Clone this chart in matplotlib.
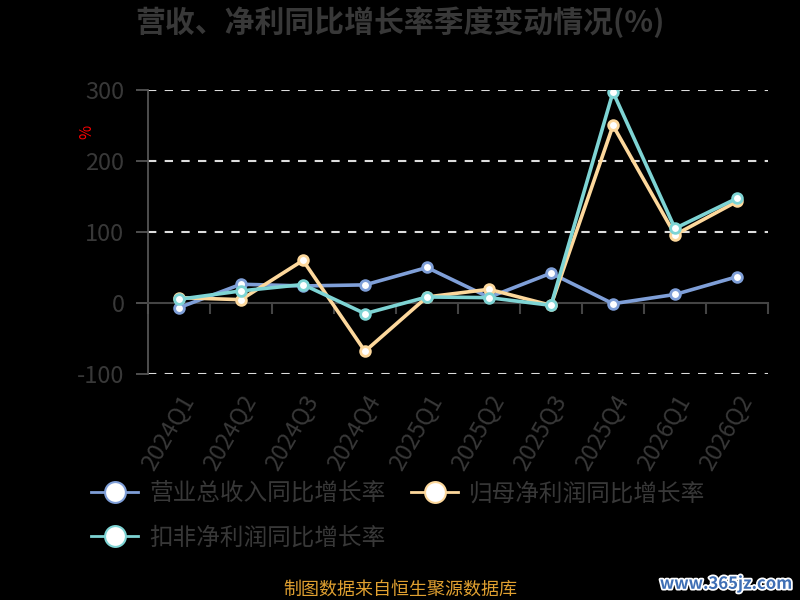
import matplotlib
matplotlib.use("Agg")
import matplotlib.pyplot as plt
from matplotlib.lines import Line2D
import matplotlib.patheffects as pe

plt.rcParams['font.family'] = ['Noto Sans CJK SC', 'DejaVu Sans']

quarters = ["2024Q1", "2024Q2", "2024Q3", "2024Q4", "2025Q1",
            "2025Q2", "2025Q3", "2025Q4", "2026Q1", "2026Q2"]
revenue_yoy = [-6.6, 26.4, 24.0, 25.5, 50.0, 8.0, 42.0, -1.0, 12.0, 37.0]
net_profit_yoy = [7.5, 4.7, 60.0, -68.0, 8.5, 19.3, -3.3, 250.0, 96.0, 143.0]
deducted_profit_yoy = [5.2, 17.0, 26.0, -15.0, 8.5, 7.5, -3.3, 297.0, 105.0, 147.5]
series_names = ["营业总收入同比增长率", "归母净利润同比增长率", "扣非净利润同比增长率"]
colors = ["#7f9fd8", "#fdd89c", "#7ed4d4"]
yticks = [-100, 0, 100, 200, 300]

gray = "#383838"

fig = plt.figure(figsize=(8, 6), dpi=100, facecolor="black")
ax = fig.add_axes([0.185, 0.3767, 0.775, 0.4733], facecolor="black")

x = list(range(len(quarters)))
all_series = [revenue_yoy, net_profit_yoy, deducted_profit_yoy]
for vals, col in zip(all_series, colors):
    ax.plot(x, vals, color=col, lw=2.6, marker="o", markersize=7,
            markerfacecolor="white", markeredgecolor=col, markeredgewidth=2,
            zorder=3)

ax.set_xlim(-0.5, len(quarters) - 0.5)
ax.set_ylim(-100, 300)

# grid
for v in yticks:
    if v != 0:
        ax.axhline(v, color="#dddddd", lw=1.5, ls=(0, (4, 4)), zorder=1)

# spines
for s in ["top", "right"]:
    ax.spines[s].set_visible(False)
ax.spines["left"].set_color("#555555")
ax.spines["left"].set_linewidth(1.3)
ax.spines["bottom"].set_position(("data", 0))
ax.spines["bottom"].set_color("#444444")
ax.spines["bottom"].set_linewidth(1.5)

ax.set_yticks(yticks)
ax.set_yticklabels([str(v) for v in yticks])
ax.tick_params(axis="y", colors="#555555", labelcolor=gray, labelsize=17,
               length=9, width=1.3, pad=8)
ax.set_xticks([i - 0.5 for i in range(len(quarters) + 1)])
ax.set_xticklabels([])
ax.tick_params(axis="x", colors="#444444", length=8, width=1.5, direction="out")

sec = ax.secondary_xaxis(0)
sec.set_xticks(x)
sec.set_xticklabels(quarters, rotation=60, ha="right", rotation_mode="anchor")
sec.tick_params(length=0, labelcolor=gray, labelsize=17, pad=12)
sec.spines["bottom"].set_visible(False)

fig.text(0.108, 0.78, "%", color="red", fontsize=11, rotation=90,
         ha="center", va="center")

fig.text(0.5, 0.963, "营收、净利同比增长率季度变动情况(%)", color=gray,
         fontsize=21.5, fontweight="bold", ha="center", va="center")

handles = [Line2D([0], [0], color=c, lw=2, marker="o", markersize=15,
                  markerfacecolor="white", markeredgecolor=c, markeredgewidth=1.5)
           for c in colors]
# order in reference: row1 = items 0,1; row2 = item 2
leg = fig.legend([handles[0], handles[2], handles[1]],
                 [series_names[0], series_names[2], series_names[1]],
                 loc="upper left", ncol=2, bbox_to_anchor=(0.114, 0.196),
                 frameon=False, fontsize=17, labelcolor=gray,
                 handlelength=2.0, handletextpad=0.45, columnspacing=1.1,
                 labelspacing=0.88, borderaxespad=0, borderpad=0)

fig.text(0.5, 0.017, "制图数据来自恒生聚源数据库", color="#e0a030",
         fontsize=13, ha="center", va="center")
wm = fig.text(0.99, 0.027, "www.365jz.com", color="#3f6fb5", fontsize=12,
              fontweight="bold", ha="right", va="center")
wm.set_path_effects([pe.withStroke(linewidth=2.5, foreground="white")])

fig.savefig("out.png", dpi=100, facecolor="black")
